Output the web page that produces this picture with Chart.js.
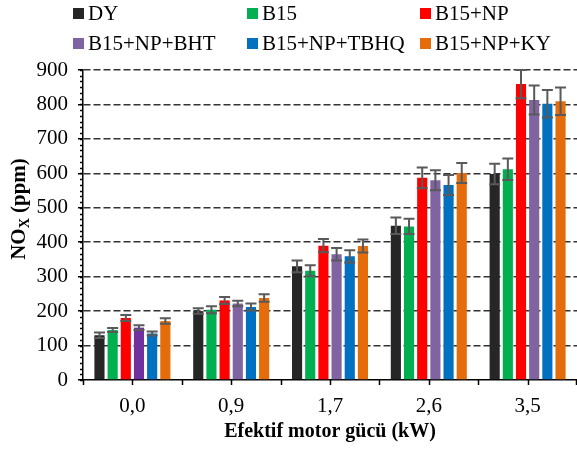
<!DOCTYPE html>
<html>
<head>
<meta charset="utf-8">
<script src="https://cdn.jsdelivr.net/npm/chart.js@4.4.0/dist/chart.umd.min.js"></script>
<style>
html, body { margin: 0; padding: 0; background: #fff; }
#wrap { position: relative; width: 577px; height: 455px; }
#legend { position: absolute; left: 0; top: 0; width: 577px; height: 60px;
  font-family: 'Liberation Serif', 'Times New Roman', serif; font-size: 21px; color: #000; }
.item { position: absolute; display: flex; align-items: center; white-space: nowrap; height: 24px; line-height: 24px; }
.box { width: 11px; height: 11px; margin-right: 4px; }
</style>
</head>
<body>
<div id="wrap">
  <canvas id="noxChart" width="577" height="455"></canvas>
  <div id="legend"></div>
</div>
<script>
const categories = ['0,0', '0,9', '1,7', '2,6', '3,5'];
const seriesNames = ['DY', 'B15', 'B15+NP', 'B15+NP+BHT', 'B15+NP+TBHQ', 'B15+NP+KY'];

const dyValues   = [130, 200, 330, 448, 598];
const dyErr      = [8, 8, 17, 24, 30];
const b15Values  = [145, 204, 317, 446, 612];
const b15Err     = [6, 10, 16, 22, 31];
const npValues   = [180, 231, 390, 587, 859];
const npErr      = [9, 10, 19, 30, 41];
const bhtValues  = [152, 222, 365, 580, 813];
const bhtErr     = [7, 8, 18, 29, 42];
const tbhqValues = [135, 212, 359, 566, 802];
const tbhqErr    = [6, 10, 18, 29, 40];
const kyValues   = [171, 238, 389, 601, 809];
const kyErr      = [8, 11, 19, 29, 40];

const yTickMin = 0;
const yTickMax = 900;
const yTickStep = 100;

const colors = ['#262626', '#00B050', '#FF0000', '#8064A2', '#0070C0', '#E46C0A'];
const bhtBarColors = ['#7030A0', '#8064A2', '#8064A2', '#8064A2', '#8064A2'];

const allValues = [dyValues, b15Values, npValues, bhtValues, tbhqValues, kyValues];
const allErrors = [dyErr, b15Err, npErr, bhtErr, tbhqErr, kyErr];

// html legend, 3 columns x 2 rows like the original
const legendCols = [73, 247, 420];
const legendRows = [1, 31];
const legendEl = document.getElementById('legend');
seriesNames.forEach((name, i) => {
    const item = document.createElement('div');
    item.className = 'item';
    item.style.left = legendCols[i % 3] + 'px';
    item.style.top = legendRows[Math.floor(i / 3)] + 'px';
    const box = document.createElement('span');
    box.className = 'box';
    box.style.background = colors[i];
    item.appendChild(box);
    item.appendChild(document.createTextNode(name));
    legendEl.appendChild(item);
});

const errorBars = {
    id: 'errorBars',
    afterDatasetsDraw(chart) {
        const ctx = chart.ctx;
        const y = chart.scales.y;
        chart.data.datasets.forEach((ds, i) => {
            const meta = chart.getDatasetMeta(i);
            meta.data.forEach((bar, j) => {
                const v = ds.data[j];
                const e = ds.errors[j];
                const top = y.getPixelForValue(v + e);
                const bot = y.getPixelForValue(v - e);
                ctx.save();
                ctx.strokeStyle = '#595959';
                ctx.lineWidth = 2;
                ctx.beginPath();
                ctx.moveTo(bar.x, top); ctx.lineTo(bar.x, bot);
                ctx.moveTo(bar.x - 5.5, top); ctx.lineTo(bar.x + 5.5, top);
                ctx.moveTo(bar.x - 5.5, bot); ctx.lineTo(bar.x + 5.5, bot);
                ctx.stroke();
                ctx.restore();
            });
        });
    }
};

const axisExtras = {
    id: 'axisExtras',
    afterDraw(chart) {
        const ctx = chart.ctx;
        const x = chart.scales.x;
        const y = chart.scales.y;
        const area = chart.chartArea;
        ctx.save();
        ctx.strokeStyle = '#000';
        ctx.lineWidth = 1.5;
        ctx.beginPath();
        // minor ticks on y
        const minorStep = yTickStep / 6;
        for (let v = yTickMin; v <= yTickMax + 0.01; v += minorStep) {
            const py = Math.round(y.getPixelForValue(v)) + 0.5;
            ctx.moveTo(area.left - 3, py);
            ctx.lineTo(area.left, py);
        }
        // x ticks at category centres and boundaries
        const w = x.width / categories.length;
        categories.forEach((c, i) => {
            const cx = x.getPixelForValue(i);
            [cx - w / 2, cx, cx + w / 2].forEach(px => {
                px = Math.min(Math.round(px), chart.width - 1) + 0.5;
                ctx.moveTo(px, area.bottom);
                ctx.lineTo(px, area.bottom + 5);
            });
        });
        ctx.stroke();

        // y title with subscript
        ctx.fillStyle = '#000';
        ctx.translate(20, (area.top + area.bottom) / 2 - 16);
        ctx.rotate(-Math.PI / 2);
        ctx.textBaseline = 'middle';
        ctx.textAlign = 'left';
        const big = 'bold 21px "Liberation Serif", serif';
        const small = 'bold 14px "Liberation Serif", serif';
        ctx.font = big;
        const w1 = ctx.measureText('NO').width;
        const w3 = ctx.measureText(' (ppm)').width;
        ctx.font = small;
        const w2 = ctx.measureText('X').width;
        let sx = -(w1 + w2 + w3) / 2;
        ctx.font = big;
        ctx.fillText('NO', sx, 0);
        ctx.font = small;
        ctx.fillText('X', sx + w1, 5);
        ctx.font = big;
        ctx.fillText(' (ppm)', sx + w1 + w2, 0);
        ctx.restore();
    }
};

const datasets = seriesNames.map((name, i) => ({
    label: name,
    data: allValues[i],
    errors: allErrors[i],
    backgroundColor: name === 'B15+NP+BHT' ? bhtBarColors : colors[i],
    borderWidth: 0,
    categoryPercentage: 0.8,
    barPercentage: 0.77
}));

const ctx = document.getElementById('noxChart').getContext('2d');
const noxChart = new Chart(ctx, {
    type: 'bar',
    data: { labels: categories, datasets: datasets },
    options: {
        responsive: false,
        animation: false,
        layout: { padding: { top: 70, left: 0, right: 0, bottom: 0 } },
        plugins: {
            legend: { display: false },
            tooltip: { enabled: false }
        },
        scales: {
            x: {
                afterFit: s => { s.height = 75; },
                grid: { display: false, drawTicks: false },
                border: { display: true, color: '#000', width: 1.5 },
                ticks: {
                    color: '#000',
                    padding: 14,
                    font: { family: 'Liberation Serif', size: 21 }
                },
                title: {
                    display: true,
                    text: 'Efektif motor gücü (kW)',
                    color: '#000',
                    font: { family: 'Liberation Serif', size: 20, weight: 'bold' },
                    padding: { top: 0, bottom: 11 }
                }
            },
            y: {
                min: yTickMin,
                max: yTickMax,
                afterFit: s => { s.width = 83; },
                grid: {
                    color: c => c.tick.value === 0 ? 'rgba(0,0,0,0)' : '#333',
                    lineWidth: 1.5,
                    tickColor: '#000',
                    tickLength: 5,
                    tickBorderDash: []
                },
                border: { display: true, color: '#000', width: 1.5, dash: [7, 3] },
                ticks: {
                    stepSize: yTickStep,
                    color: '#000',
                    padding: 10,
                    font: { family: 'Liberation Serif', size: 21 }
                }
            }
        }
    },
    plugins: [errorBars, axisExtras]
});
</script>
</body>
</html>
